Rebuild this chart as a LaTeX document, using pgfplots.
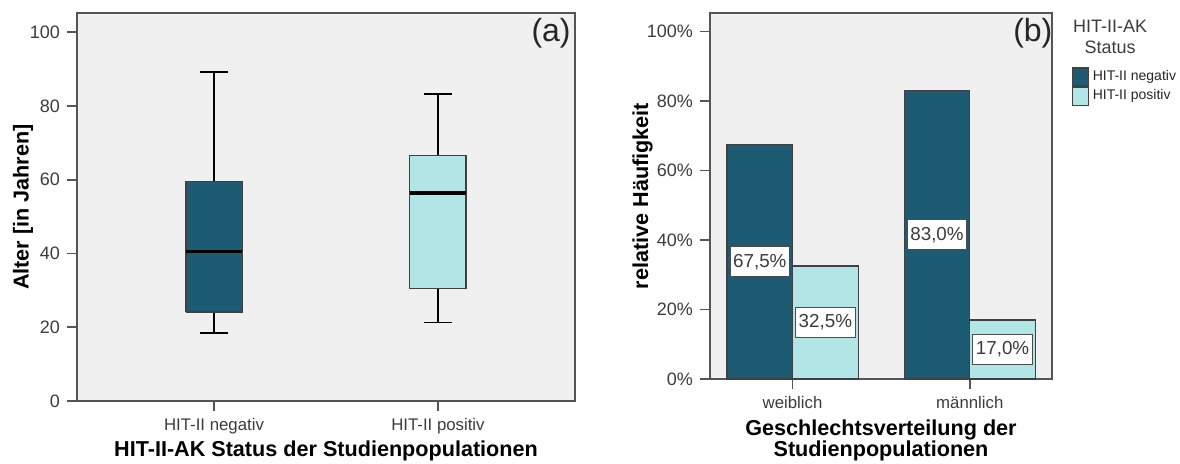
\documentclass[border=0pt]{standalone}
\usepackage{fontspec}
\setmainfont{Liberation Sans}
\usepackage{pgfplots}
\pgfplotsset{compat=1.18}

\definecolor{negcol}{RGB}{29,91,115}
\definecolor{poscol}{RGB}{178,229,230}
\definecolor{panelbg}{RGB}{240,240,240}
\definecolor{framecol}{RGB}{85,85,85}
\definecolor{tickcol}{RGB}{60,60,60}

\pgfplotsset{
  spssaxis/.style={
    scale only axis,
    axis background/.style={fill=panelbg},
    axis line style={framecol, line width=0.8pt},
    tick pos=left,
    tick align=outside,
    major tick length=5pt,
    every tick/.style={framecol, line width=0.8pt},
    /pgf/number format/assume math mode=true,
    tick label style={font=\fontsize{9}{10}\selectfont, text=tickcol},
    label style={font=\fontsize{10.8}{10.6}\selectfont\bfseries, text=black},
  },
  boxstyle/.style={draw=black!75, line width=0.7pt},
  whisk/.style={black, line width=0.9pt, forget plot},
  med/.style={black, line width=1.6pt, forget plot},
}

\begin{document}
\begin{tikzpicture}
\useasboundingbox (-38.5pt,6.5pt) rectangle (551.5pt,-225pt);

% (a) age by antibody status (box: Q1..Q3, whiskers: min..max)
\begin{axis}[
  spssaxis,
  name=ageplot,
  at={(0pt,0pt)}, anchor=north west,
  width=249pt, height=194pt,
  xmin=0.388, xmax=2.612,
  ymin=0, ymax=105.2,
  xtick={1,2},
  xticklabels={HIT-II negativ, HIT-II positiv},
  x tick label style={font=\fontsize{8.4}{9}\selectfont},
  ytick={0,20,40,60,80,100},
  ylabel={Alter [in Jahren]},
  ylabel style={at={(axis description cs:-0.074,0.5)}, anchor=south},
  xlabel={HIT-II-AK Status der Studienpopulationen},
  xlabel style={at={(axis description cs:0.5,-0.085)}, anchor=north},
]
% HIT-II negativ: 18.4 / 24.1 / 40.6 / 59.5 / 89.3
\addplot[whisk] coordinates {(1,59.5) (1,89.3)};
\addplot[whisk] coordinates {(0.937,89.3) (1.063,89.3)};
\addplot[whisk] coordinates {(1,24.1) (1,18.4)};
\addplot[whisk] coordinates {(0.937,18.4) (1.063,18.4)};
\addplot[boxstyle, fill=negcol] coordinates {(0.874,24.1) (1.126,24.1) (1.126,59.5) (0.874,59.5) (0.874,24.1)};
\addplot[med] coordinates {(0.874,40.6) (1.126,40.6)};
% HIT-II positiv: 21.3 / 30.5 / 56.4 / 66.6 / 83.2
\addplot[whisk] coordinates {(2,66.6) (2,83.2)};
\addplot[whisk] coordinates {(1.937,83.2) (2.063,83.2)};
\addplot[whisk] coordinates {(2,30.5) (2,21.3)};
\addplot[whisk] coordinates {(1.937,21.3) (2.063,21.3)};
\addplot[boxstyle, fill=poscol] coordinates {(1.874,30.5) (2.126,30.5) (2.126,66.6) (1.874,66.6) (1.874,30.5)};
\addplot[med] coordinates {(1.874,56.4) (2.126,56.4)};
\node[font=\fontsize{16}{18}\selectfont, text=black!85] at (rel axis cs:0.952,0.948) {(a)};
\end{axis}

% (b) sex distribution by antibody status
\begin{axis}[
  spssaxis,
  name=sexplot,
  at={(316.5pt,0pt)}, anchor=north west,
  width=171pt, height=183pt,
  clip mode=individual,
  ybar=0pt, bar width=0.37,
  xmin=-0.466, xmax=1.464,
  ymin=0, ymax=105.3,
  xtick={0,1},
  xticklabels={weiblich, männlich},
  x tick label style={font=\fontsize{8.4}{9}\selectfont},
  ytick={0,20,40,60,80,100},
  yticklabel={\pgfmathprintnumber{\tick}\%},
  ylabel={relative Häufigkeit},
  ylabel style={at={(axis description cs:-0.147,0.5)}, anchor=south},
  xlabel={Geschlechtsverteilung der\\Studienpopulationen},
  xlabel style={at={(axis description cs:0.5,-0.093)}, anchor=north, align=center},
  visualization depends on=y \as \rawy,
  nodes near coords={\pgfmathprintnumber[fixed,fixed zerofill,precision=1,use comma]{\pgfplotspointmeta}\%},
  every node near coord/.append style={
    anchor=center, shift={(axis direction cs:0,-\rawy/2)},
    font=\fontsize{9.4}{10}\selectfont, text=tickcol,
    fill=white, draw=black!70, line width=0.5pt, inner xsep=1.5pt, inner ysep=3.6pt},
  legend style={at={(1.056,0.855)}, anchor=north west, draw=none, fill=none,
    font=\fontsize{7}{8}\selectfont, text=black!85,
    row sep=-1pt, inner sep=0pt,
    /tikz/every even column/.append style={column sep=1pt}},
  legend cell align=left,
  legend image code/.code={\draw[#1] (0pt,-4.5pt) rectangle (8pt,4.5pt);},
]
\addplot[fill=negcol, draw=black!75, line width=0.6pt] coordinates {(0,67.5) (1,83.0)};
\addplot[fill=poscol, draw=black!75, line width=0.6pt] coordinates {(0,32.5) (1,17.0)};
\legend{HIT-II negativ, HIT-II positiv}
\node[font=\fontsize{16}{18}\selectfont, text=black!85] at (rel axis cs:0.944,0.945) {(b)};
\node[font=\fontsize{9}{10.5}\selectfont, text=tickcol, align=center] at (rel axis cs:1.17,0.934) {HIT-II-AK\\Status};
\end{axis}
\end{tikzpicture}
\end{document}
